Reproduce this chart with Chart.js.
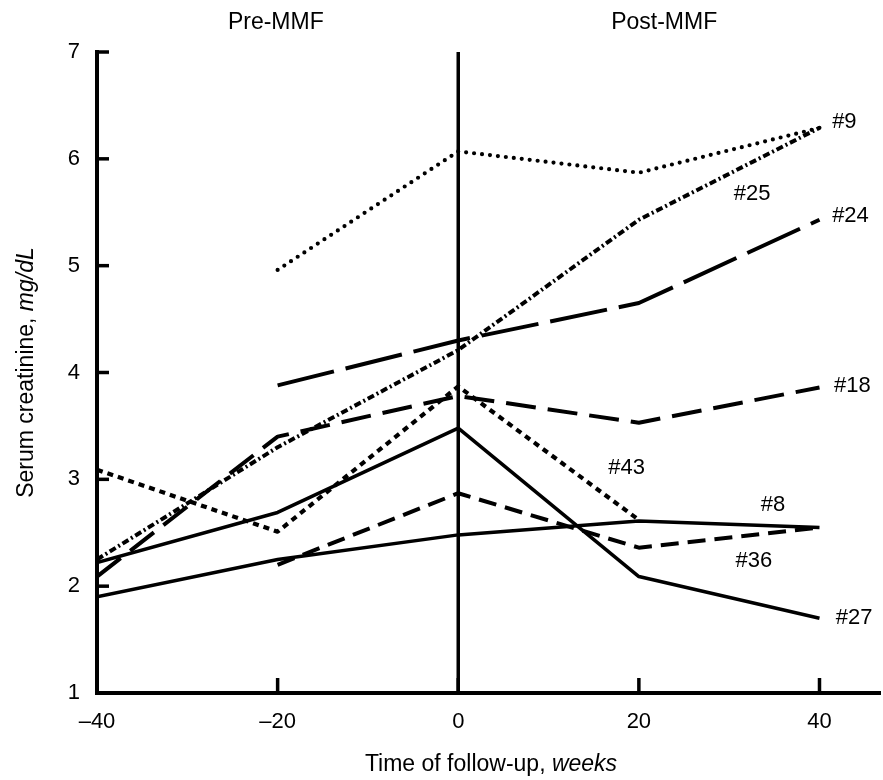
<!DOCTYPE html>
<html>
<head>
<meta charset="utf-8">
<script src="https://cdn.jsdelivr.net/npm/chart.js@4.4.1/dist/chart.umd.min.js"></script>
<style>
  html, body { margin: 0; padding: 0; background: #fff; }
  #wrap { width: 883px; height: 780px; }
</style>
</head>
<body>
<div id="wrap"><canvas id="chart" width="883" height="780"></canvas></div>
<script>
// Serum creatinine (mg/dL) per patient at each follow-up week; null = not measured
const weeks = [-40, -20, 0, 20, 40];
const xTicks = [-40, -20, 0, 20, 40];
const yTicks = [1, 2, 3, 4, 5, 6, 7];

const pt9  = [null, 4.96, 6.07, 5.87, 6.29];
const pt25 = [2.25, 3.30, 4.21, 5.43, 6.29];
const pt24 = [null, 3.88, 4.30, 4.65, 5.43];
const pt18 = [2.09, 3.40, 3.78, 3.53, 3.86];
const pt43 = [3.09, 2.51, 3.87, 2.62, null];
const pt36 = [null, 2.20, 2.87, 2.36, 2.55];
const pt8  = [1.90, 2.25, 2.48, 2.61, 2.55];
const pt27 = [2.22, 2.69, 3.48, 2.09, 1.70];

const patients = ['#9', '#25', '#24', '#18', '#43', '#36', '#8', '#27'];
const series = [pt9, pt25, pt24, pt18, pt43, pt36, pt8, pt27];

// where each patient tag sits, in axis units (weeks, mg/dL)
const tagWeek  = [41.4, 30.5, 41.4, 41.6, 16.6, 30.7, 33.5, 41.8];
const tagValue = [6.35, 5.67, 5.47, 3.87, 3.11, 2.24, 2.76, 1.70];

const periods = ['Pre-MMF', 'Post-MMF'];
const periodWeek = [-20.2, 22.8];

const FONT = '"Liberation Sans", Arial, Helvetica, sans-serif';

// line look per patient
const LINE_STYLES = {
  '#9':  { dash: [0, 8], width: 4.2, cap: 'round' },
  '#25': { dash: [7, 3, 2, 3], width: 4, cap: 'butt' },
  '#24': { dash: [58, 12], width: 4, cap: 'butt' },
  '#18': { dash: [30, 12], width: 4, cap: 'butt' },
  '#43': { dash: [6, 5], width: 4.2, cap: 'butt' },
  '#36': { dash: [18, 9], width: 4, cap: 'butt' },
  '#8':  { dash: [], width: 3.5, cap: 'butt' },
  '#27': { dash: [], width: 3.5, cap: 'butt' },
};

function toPoints(values) {
  return weeks
    .map((w, i) => ({ x: w, y: values[i] }))
    .filter((p) => p.y !== null);
}

function fmtWeek(v) {
  return v < 0 ? '\u2013' + Math.abs(v) : String(v);
}

// draw text made of [text, italic] runs, centred on (0,0) of current transform
function drawRuns(ctx, runs, size) {
  let total = 0;
  const widths = runs.map(([t, it]) => {
    ctx.font = `${it ? 'italic ' : ''}${size}px ${FONT}`;
    const w = ctx.measureText(t).width;
    total += w;
    return w;
  });
  let x = -total / 2;
  runs.forEach(([t, it], i) => {
    ctx.font = `${it ? 'italic ' : ''}${size}px ${FONT}`;
    ctx.fillText(t, x, 0);
    x += widths[i];
  });
}

const decorations = {
  id: 'decorations',
  beforeDatasetsDraw(chart) {
    const { ctx, chartArea, scales: { x, y } } = chart;
    ctx.save();
    ctx.strokeStyle = '#000';
    ctx.lineCap = 'butt';

    // treatment start line at week 0
    ctx.lineWidth = 3.5;
    const x0 = x.getPixelForValue(0);
    ctx.beginPath();
    ctx.moveTo(x0, chartArea.top);
    ctx.lineTo(x0, chartArea.bottom);
    ctx.stroke();

    // inward tick marks
    ctx.lineWidth = 3.5;
    yTicks.forEach((v) => {
      const py = y.getPixelForValue(v);
      ctx.beginPath();
      ctx.moveTo(chartArea.left, py);
      ctx.lineTo(chartArea.left + 12, py);
      ctx.stroke();
    });
    xTicks.forEach((v) => {
      const px = x.getPixelForValue(v);
      ctx.beginPath();
      ctx.moveTo(px, chartArea.bottom);
      ctx.lineTo(px, chartArea.bottom - 15);
      ctx.stroke();
    });
    ctx.restore();
  },
  afterDraw(chart) {
    const { ctx, chartArea, scales: { x, y } } = chart;
    ctx.save();
    ctx.fillStyle = '#000';

    // patient tags
    ctx.font = `22px ${FONT}`;
    ctx.textAlign = 'left';
    ctx.textBaseline = 'middle';
    patients.forEach((name, i) => {
      ctx.fillText(name, x.getPixelForValue(tagWeek[i]), y.getPixelForValue(tagValue[i]));
    });

    // period headers
    ctx.font = `23px ${FONT}`;
    ctx.textAlign = 'center';
    ctx.textBaseline = 'middle';
    periods.forEach((name, i) => {
      ctx.fillText(name, x.getPixelForValue(periodWeek[i]), 23);
    });

    // axis titles
    ctx.textAlign = 'left';
    ctx.textBaseline = 'alphabetic';
    ctx.save();
    ctx.translate(491, 771);
    drawRuns(ctx, [['Time of follow-up, ', false], ['weeks', true]], 23);
    ctx.restore();

    ctx.save();
    ctx.translate(33, (chartArea.top + chartArea.bottom) / 2);
    ctx.rotate(-Math.PI / 2);
    drawRuns(ctx, [['Serum creatinine, ', false], ['mg/dL', true]], 23);
    ctx.restore();

    ctx.restore();
  },
};

const datasets = patients.map((name, i) => {
  const st = LINE_STYLES[name];
  return {
    label: name,
    data: toPoints(series[i]),
    borderColor: '#000',
    borderWidth: st.width,
    borderDash: st.dash,
    borderCapStyle: st.cap,
    borderJoinStyle: 'round',
    pointRadius: 0,
    tension: 0,
    fill: false,
  };
});

new Chart(document.getElementById('chart'), {
  type: 'line',
  data: { datasets },
  options: {
    responsive: false,
    animation: false,
    events: [],
    layout: { padding: { top: 52, right: 3, left: 0, bottom: 0 } },
    plugins: {
      legend: { display: false },
      tooltip: { enabled: false },
    },
    scales: {
      x: {
        type: 'linear',
        min: -40,
        max: 46.7,
        afterBuildTicks: (s) => { s.ticks = xTicks.map((v) => ({ value: v })); },
        afterFit: (s) => { s.height = 87; },
        grid: { display: false, drawTicks: false },
        border: { display: true, color: '#000', width: 4 },
        ticks: {
          color: '#000',
          font: { family: FONT, size: 22 },
          padding: 16,
          maxRotation: 0,
          autoSkip: false,
          callback: (v) => fmtWeek(v),
        },
      },
      y: {
        type: 'linear',
        min: 1,
        max: 7,
        afterBuildTicks: (s) => { s.ticks = yTicks.map((v) => ({ value: v })); },
        afterFit: (s) => { s.width = 97; },
        grid: { display: false, drawTicks: false },
        border: { display: true, color: '#000', width: 4 },
        ticks: {
          color: '#000',
          font: { family: FONT, size: 22 },
          padding: 17,
          autoSkip: false,
        },
      },
    },
  },
  plugins: [decorations],
});
</script>
</body>
</html>
